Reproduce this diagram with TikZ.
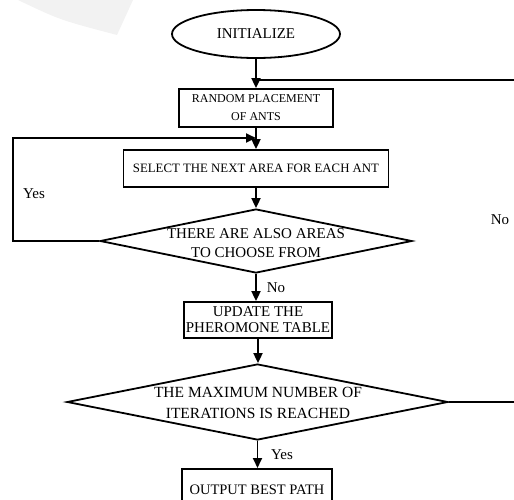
\documentclass[tikz,border=0pt]{standalone}
\usepackage{fontspec}
\setmainfont{Liberation Serif}
\usetikzlibrary{arrows.meta,shapes.geometric}

\begin{document}
\begin{tikzpicture}[x=1pt,y=-1pt,line width=1.8pt,>={Triangle[length=10pt,width=9pt]},
  box/.style={draw,rectangle,inner sep=0pt,align=center},
  decision/.style={draw,diamond,inner sep=0pt},
  txt/.style={inner sep=0pt,align=center,font=\fontsize{15}{16}\selectfont}]
\useasboundingbox (0,0) rectangle (514,499);
\clip (0,0) rectangle (514,499);
% ---------- faint mark in the corner ----------
\fill[gray!10] (18,0) .. controls (60,20) .. (117,35) -- (133,0) -- cycle;
% ---------- start ----------
\node[draw,ellipse,minimum width=168pt,minimum height=48pt,inner sep=0pt,
  font=\fontsize{15}{16}\selectfont] (init) at (256,34) {INITIALIZE};
\coordinate (split) at (256,80);
% ---------- random placement ----------
\node[box,minimum width=154pt,minimum height=38pt,font=\fontsize{12}{18}\selectfont]
  (place) at (256,108) {RANDOM PLACEMENT\\OF ANTS};
\coordinate (backin) at (256,138);
% ---------- select next area ----------
\node[box,minimum width=265pt,minimum height=37pt,font=\fontsize{12.8}{15}\selectfont]
  (select) at (256,168.5) {SELECT THE NEXT AREA FOR EACH ANT};
% ---------- first decision ----------
\node[decision,minimum width=312pt,minimum height=64pt] (more) at (256,241) {};
\node[txt,font=\fontsize{15}{19}\selectfont] (moretext) at (256,243) {THERE ARE ALSO AREAS\\TO CHOOSE FROM};
% ---------- pheromone update ----------
\node[box,minimum width=148pt,minimum height=36pt,font=\fontsize{15}{16}\selectfont]
  (update) at (258,320) {UPDATE THE\\PHEROMONE TABLE};
% ---------- second decision ----------
\node[decision,minimum width=381pt,minimum height=76pt] (maxit) at (257.5,402) {};
\node[txt,font=\fontsize{15.5}{21}\selectfont] (maxittext) at (258,403) {THE MAXIMUM NUMBER OF\\ITERATIONS IS REACHED};
\coordinate (edge) at (520,80);
% ---------- output ----------
\node[box,minimum width=150pt,minimum height=42pt,anchor=north,font=\fontsize{14.5}{16}\selectfont]
  (best) at (257,468) {OUTPUT BEST PATH};
% ---------- main flow ----------
\draw[->] (init.south) -- (place.north);
\draw[->] (place.south) -- (select.north);
\draw[->] (select.south) -- (more.north);
\draw[->] (more.south) -- (more.south |- update.north);
\draw[->] (update.south) -- (update.south |- maxit.north);
\draw[->] (maxit.south) -- (maxit.south |- best.north);
% ---------- loops back ----------
\draw[->] (more.west) -- ++(-86,0) |- (backin);
\draw (maxit.east) -| (edge) -- (split);
% ---------- branch labels ----------
\node[txt] (yesmore) at (34,194) {Yes};
\node[txt] (nomore) at (276,288) {No};
\node[txt] (yesmax) at (282,455) {Yes};
\node[txt] (nomax) at (500,220) {No};
\end{tikzpicture}
\end{document}
